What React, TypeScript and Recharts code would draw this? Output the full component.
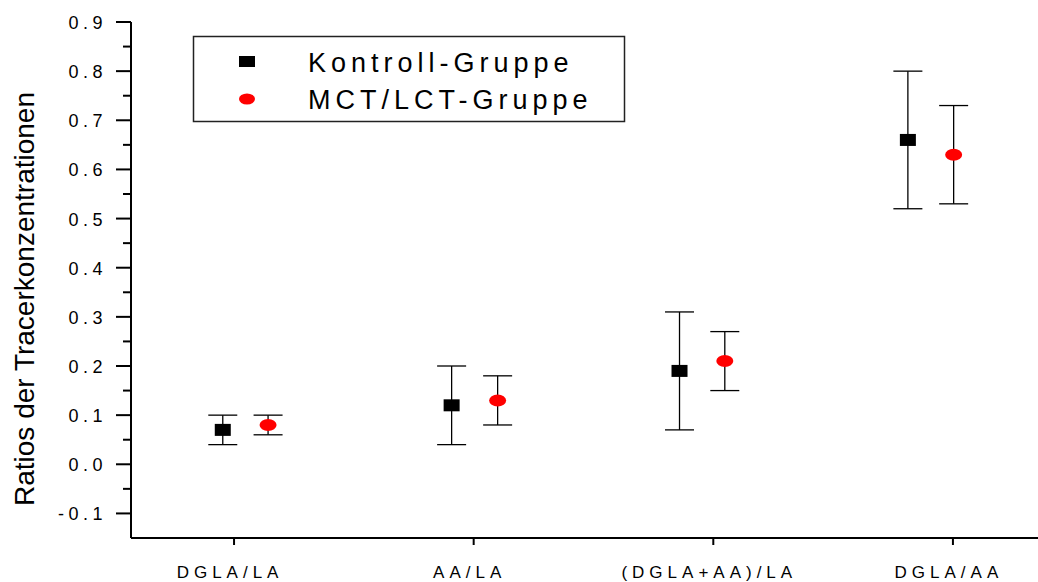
import React from 'react';
import { ScatterChart, Scatter, XAxis, YAxis, ErrorBar } from 'recharts';

const categories = ['DGLA/LA', 'AA/LA', '(DGLA+AA)/LA', 'DGLA/AA'];
const categoryTicks = [1, 2, 3, 4];

const kontrollX = [0.953, 1.908, 2.859, 3.812];
const kontrollMean = [0.07, 0.12, 0.19, 0.66];
const kontrollLow = [0.04, 0.04, 0.07, 0.52];
const kontrollHigh = [0.1, 0.2, 0.31, 0.8];

const mctX = [1.142, 2.1, 3.048, 4.003];
const mctMean = [0.08, 0.13, 0.21, 0.63];
const mctLow = [0.06, 0.08, 0.15, 0.53];
const mctHigh = [0.1, 0.18, 0.27, 0.73];

const yTicks = [-0.1, -0.05, 0, 0.05, 0.1, 0.15, 0.2, 0.25, 0.3, 0.35, 0.4, 0.45, 0.5, 0.55, 0.6, 0.65, 0.7, 0.75, 0.8, 0.85, 0.9];

const seriesNames = ['Kontroll-Gruppe', 'MCT/LCT-Gruppe'];
const yAxisTitle = 'Ratios der Tracerkonzentrationen';

const FONT = '"Liberation Sans", Arial, sans-serif';

const kontrollData = kontrollX.map((x, i) => ({
  x,
  y: kontrollMean[i],
  err: [kontrollMean[i] - kontrollLow[i], kontrollHigh[i] - kontrollMean[i]],
}));
const mctData = mctX.map((x, i) => ({
  x,
  y: mctMean[i],
  err: [mctMean[i] - mctLow[i], mctHigh[i] - mctMean[i]],
}));

const SquareShape = (props: any) => {
  const { cx, cy } = props;
  return <rect x={cx - 8} y={cy - 6} width={16} height={12} fill="#000" />;
};
const EllipseShape = (props: any) => {
  const { cx, cy } = props;
  return <ellipse cx={cx} cy={cy} rx={8.5} ry={6} fill="#ff0000" />;
};

const YTick = (props: any) => {
  const { x, y, payload } = props;
  const v = payload.value;
  const major = Math.abs(Math.round(v * 100)) % 10 === 0;
  const label = v.toFixed(1);
  return (
    <g>
      <line x1={x - (major ? 15 : 8)} x2={x} y1={y} y2={y} stroke="#000" strokeWidth={2} />
      {major && (
        <text
          x={x - 24}
          y={y + 7}
          textAnchor="end"
          fontFamily={FONT}
          fontSize={18}
          letterSpacing={4.5}
          fill="#000"
        >
          {label}
        </text>
      )}
    </g>
  );
};

const XTick = (props: any) => {
  const { x, y, payload } = props;
  const idx = categoryTicks.indexOf(payload.value);
  return (
    <g>
      <line x1={x} x2={x} y1={y} y2={y + 7} stroke="#000" strokeWidth={2} />
      <text
        x={x - 4}
        y={y + 40}
        textAnchor="middle"
        fontFamily={FONT}
        fontSize={17}
        letterSpacing={5}
        fill="#000"
      >
        {idx >= 0 ? categories[idx] : ''}
      </text>
    </g>
  );
};

export default function App() {
  return (
    <div style={{ position: 'absolute', left: 0, top: 0, width: 1038, height: 582, background: '#fff' }}>
      <ScatterChart width={1038} height={582} margin={{ top: 22, right: 0, bottom: 0, left: 0 }}>
        <XAxis
          type="number"
          dataKey="x"
          domain={[0.57, 4.355]}
          ticks={categoryTicks}
          allowDataOverflow
          height={44}
          tickSize={0}
          tickMargin={0}
          tickLine={false}
          tick={<XTick />}
          axisLine={{ stroke: '#000', strokeWidth: 2 }}
        />
        <YAxis
          type="number"
          dataKey="y"
          domain={[-0.15, 0.9]}
          ticks={yTicks}
          allowDataOverflow
          interval={0}
          width={131}
          tickSize={0}
          tickMargin={0}
          tickLine={false}
          tick={<YTick />}
          axisLine={{ stroke: '#000', strokeWidth: 2 }}
        />
        <Scatter name={seriesNames[0]} data={kontrollData} shape={SquareShape} isAnimationActive={false}>
          <ErrorBar dataKey="err" direction="y" width={14.5} stroke="#000" strokeWidth={1.3} />
        </Scatter>
        <Scatter name={seriesNames[1]} data={mctData} shape={EllipseShape} isAnimationActive={false}>
          <ErrorBar dataKey="err" direction="y" width={14.5} stroke="#000" strokeWidth={1.3} />
        </Scatter>
      </ScatterChart>
      <svg
        width={1038}
        height={582}
        style={{ position: 'absolute', left: 0, top: 0, pointerEvents: 'none' }}
      >
        <text
          x={34}
          y={299}
          transform="rotate(-90, 34, 299)"
          textAnchor="middle"
          fontFamily={FONT}
          fontSize={28}
          fill="#000"
        >
          {yAxisTitle}
        </text>
        <rect x={193.5} y={36.5} width={431} height={85} fill="#fff" stroke="#222" strokeWidth={1.5} />
        <rect x={239} y={56} width={16} height={11} fill="#000" />
        <ellipse cx={247} cy={99} rx={8} ry={5.5} fill="#ff0000" />
        <text x={308} y={72} fontFamily={FONT} fontSize={27} letterSpacing={5} fill="#000">
          {seriesNames[0]}
        </text>
        <text x={308} y={109} fontFamily={FONT} fontSize={27} letterSpacing={5} fill="#000">
          {seriesNames[1]}
        </text>
      </svg>
    </div>
  );
}
